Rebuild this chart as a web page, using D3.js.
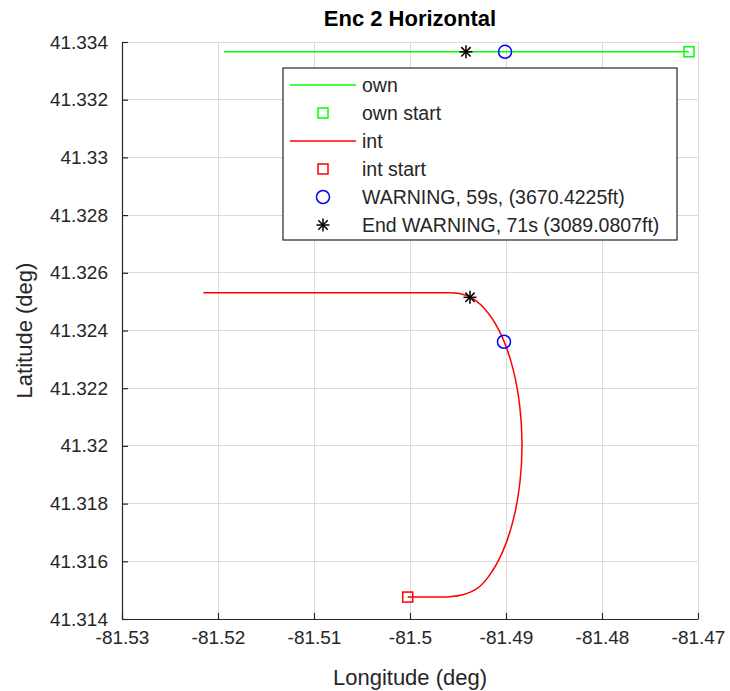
<!DOCTYPE html>
<html>
<head>
<meta charset="utf-8">
<script src="https://cdn.jsdelivr.net/npm/d3@7"></script>
<style>
  html, body { margin: 0; padding: 0; background: #fff; }
  svg { display: block; font-family: "Liberation Sans", Arial, Helvetica, sans-serif; }
</style>
</head>
<body>
<svg id="chart" width="730" height="691"></svg>
<script>
// ---- data ----
const title = "Enc 2 Horizontal";
const xLabel = "Longitude (deg)";
const yLabel = "Latitude (deg)";
const xTicks = [-81.53, -81.52, -81.51, -81.50, -81.49, -81.48, -81.47];
const xTickLabels = ["-81.53", "-81.52", "-81.51", "-81.5", "-81.49", "-81.48", "-81.47"];
const yTicks = [41.314, 41.316, 41.318, 41.320, 41.322, 41.324, 41.326, 41.328, 41.330, 41.332, 41.334];
const yTickLabels = ["41.314", "41.316", "41.318", "41.32", "41.322", "41.324", "41.326", "41.328", "41.33", "41.332", "41.334"];

// own track [lon, lat], from start (east) heading west
const ownTrack = [
  [-81.47094, 41.33366],
  [-81.49010, 41.33366],
  [-81.51937, 41.33366]
];
const ownStart = [-81.47094, 41.33366];
const ownWarning = [-81.49010, 41.33366];
const ownEndWarning = [-81.49417, 41.33366];

// intruder track [lon, lat]
const intTrack = [
  [-81.50024, 41.31476],
  [-81.49800, 41.31476],
  [-81.49600, 41.31477],
  [-81.49450, 41.31484],
  [-81.49300, 41.31506],
  [-81.49182, 41.31547],
  [-81.49038, 41.31631],
  [-81.48927, 41.31740],
  [-81.48857, 41.31867],
  [-81.48833, 41.32003],
  [-81.48857, 41.32139],
  [-81.48927, 41.32267],
  [-81.49038, 41.32376],
  [-81.49182, 41.32459],
  [-81.49351, 41.32512],
  [-81.49500, 41.32529],
  [-81.49700, 41.32531],
  [-81.50200, 41.32531],
  [-81.50800, 41.32531],
  [-81.51500, 41.32531],
  [-81.52153, 41.32531]
];
const intStart = [-81.50024, 41.31476];
const intWarning = [-81.49021, 41.32361];
const intEndWarning = [-81.49375, 41.32515];

const legendLabels = ["own", "own start", "int", "int start",
  "WARNING, 59s, (3670.4225ft)", "End WARNING, 71s (3089.0807ft)"];

// ---- layout ----
const svg = d3.select("#chart");
const L = 122, R = 698, T = 42, B = 619;
const x = d3.scaleLinear().domain([-81.53, -81.47]).range([L, R]);
const y = d3.scaleLinear().domain([41.314, 41.334]).range([B, T]);
const axisColor = "#262626";
const gridColor = "#dcdcdc";
const tickFont = 19;

// grid
const g = svg.append("g");
g.selectAll("line.gx").data(xTicks).enter().append("line")
  .attr("x1", d => x(d)).attr("x2", d => x(d)).attr("y1", T).attr("y2", B)
  .attr("stroke", gridColor).attr("stroke-width", 1).attr("shape-rendering", "crispEdges");
g.selectAll("line.gy").data(yTicks).enter().append("line")
  .attr("y1", d => y(d)).attr("y2", d => y(d)).attr("x1", L).attr("x2", R)
  .attr("stroke", gridColor).attr("stroke-width", 1).attr("shape-rendering", "crispEdges");

// axes
const xAxis = d3.axisBottom(x).tickValues(xTicks).tickFormat((d, i) => xTickLabels[i])
  .tickSizeInner(-6).tickSizeOuter(0).tickPadding(12);
const yAxis = d3.axisLeft(y).tickValues(yTicks).tickFormat((d, i) => yTickLabels[i])
  .tickSizeInner(-6).tickSizeOuter(0).tickPadding(14);
const gx = svg.append("g").attr("transform", `translate(0,${B})`).call(xAxis);
const gy = svg.append("g").attr("transform", `translate(${L},0)`).call(yAxis);
[gx, gy].forEach(a => {
  a.select(".domain").attr("stroke", axisColor).attr("stroke-width", 1.2);
  a.selectAll(".tick line").attr("stroke", axisColor).attr("stroke-width", 1.2);
  a.selectAll(".tick text").attr("fill", axisColor)
    .style("font-size", tickFont + "px")
    .style("font-family", '"Liberation Sans", Arial, sans-serif');
});
gx.selectAll(".tick text").attr("dy", "0.71em");

// lines
const line = d3.line().x(d => x(d[0])).y(d => y(d[1]));
svg.append("path").datum(ownTrack).attr("d", line)
  .attr("fill", "none").attr("stroke", "#00ff00").attr("stroke-width", 1.5);
const curveLine = d3.line().x(d => x(d[0])).y(d => y(d[1])).curve(d3.curveMonotoneY);
svg.append("path").datum(intTrack).attr("d", d3.line().x(d => x(d[0])).y(d => y(d[1])).curve(d3.curveCatmullRom.alpha(0.5)))
  .attr("fill", "none").attr("stroke", "#ff0000").attr("stroke-width", 1.5);

// marker helpers
function square(sel, cx, cy, color) {
  sel.append("rect").attr("x", cx - 5).attr("y", cy - 5).attr("width", 10).attr("height", 10)
    .attr("fill", "none").attr("stroke", color).attr("stroke-width", 1.5);
}
function circle(sel, cx, cy) {
  sel.append("circle").attr("cx", cx).attr("cy", cy).attr("r", 6.5)
    .attr("fill", "none").attr("stroke", "#0000ff").attr("stroke-width", 1.5);
}
function star(sel, cx, cy) {
  const s = 6.5, d = s * 0.72;
  const segs = [[-s, 0, s, 0], [0, -s, 0, s], [-d, -d, d, d], [-d, d, d, -d]];
  segs.forEach(p => sel.append("line")
    .attr("x1", cx + p[0]).attr("y1", cy + p[1]).attr("x2", cx + p[2]).attr("y2", cy + p[3])
    .attr("stroke", "#000").attr("stroke-width", 1.5));
}
const m = svg.append("g");
square(m, x(ownStart[0]), y(ownStart[1]), "#00ff00");
square(m, x(intStart[0]), y(intStart[1]), "#ff0000");
circle(m, x(ownWarning[0]), y(ownWarning[1]));
circle(m, x(intWarning[0]), y(intWarning[1]));
star(m, x(ownEndWarning[0]), y(ownEndWarning[1]));
star(m, x(intEndWarning[0]), y(intEndWarning[1]));

// legend
const lg = svg.append("g");
lg.append("rect").attr("x", 283).attr("y", 68).attr("width", 394).attr("height", 172)
  .attr("fill", "#fff").attr("stroke", axisColor).attr("stroke-width", 1.2);
const rowY = d => 85 + d * 28;
const kinds = ["gline", "gsq", "rline", "rsq", "circ", "star"];
kinds.forEach((k, i) => {
  const cy = rowY(i);
  if (k === "gline") lg.append("line").attr("x1", 290).attr("x2", 356).attr("y1", cy).attr("y2", cy).attr("stroke", "#00ff00").attr("stroke-width", 1.5);
  if (k === "rline") lg.append("line").attr("x1", 290).attr("x2", 356).attr("y1", cy).attr("y2", cy).attr("stroke", "#ff0000").attr("stroke-width", 1.5);
  if (k === "gsq") square(lg, 323, cy, "#00ff00");
  if (k === "rsq") square(lg, 323, cy, "#ff0000");
  if (k === "circ") circle(lg, 323, cy);
  if (k === "star") star(lg, 323, cy);
  lg.append("text").attr("x", 362).attr("y", cy).attr("dy", "0.35em")
    .attr("fill", axisColor).style("font-size", "19.5px").text(legendLabels[i]);
});

// title and labels
svg.append("text").attr("x", (L + R) / 2).attr("y", 26).attr("text-anchor", "middle")
  .style("font-size", "22px").style("font-weight", "bold").attr("fill", "#000").text(title);
svg.append("text").attr("x", (L + R) / 2).attr("y", 685).attr("text-anchor", "middle")
  .style("font-size", "22px").attr("fill", axisColor).text(xLabel);
svg.append("text").attr("transform", `translate(32,${(T + B) / 2}) rotate(-90)`)
  .attr("text-anchor", "middle").style("font-size", "22px").attr("fill", axisColor).text(yLabel);
</script>
</body>
</html>
